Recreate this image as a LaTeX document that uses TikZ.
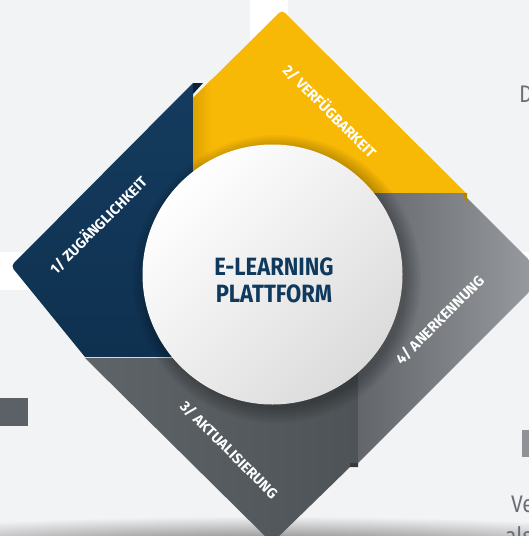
\documentclass[tikz,border=0pt]{standalone}
\usepackage{fontspec}
\setmainfont{Fira Sans}[FakeStretch=0.88]
\newfontfamily\labelfont{Fira Sans}
\usepackage{xcolor}
\definecolor{pagebg}{HTML}{F2F3F5}
\definecolor{pagetext}{HTML}{6B6F73}
\definecolor{navytop}{HTML}{143B5E}
\definecolor{navybot}{HTML}{0F3150}
\definecolor{navyfold}{HTML}{0A2136}
\definecolor{hubtext}{HTML}{0F3A5E}
\definecolor{yellowmain}{HTML}{F8B906}
\definecolor{yellowdk}{HTML}{DFA200}
\definecolor{yellowfold}{HTML}{B08400}
\definecolor{greyfourdk}{HTML}{62666B}
\definecolor{greyfourlt}{HTML}{9A9EA3}
\definecolor{greythreelt}{HTML}{5E6468}
\definecolor{greythreedk}{HTML}{4E5357}
\definecolor{rectdk}{HTML}{5B6166}
\definecolor{rectlt}{HTML}{8E9297}

\tikzset{
  piecelabel/.style={text=white, font=\labelfont\bfseries\fontsize{14.5}{14.5}\selectfont},
  hubline/.style={anchor=base, text=hubtext, font=\bfseries\fontsize{25}{25}\selectfont},
  pageline/.style={anchor=base west, text=pagetext, font=\fontsize{24}{24}\selectfont}
}

\begin{document}
\begin{tikzpicture}[x=1pt,y=-1pt]
\tikzstyle{every node}+=[inner sep=0pt]
\clip (0,0) rectangle (529,536);
\fill [pagebg] (0,0) rectangle (529,536);
\fill [white] (0,252) rectangle (529,290);
\fill [white] (250,0) rectangle (288,100);
\fill [rectdk] (0,398) rectangle (28,426);
\fill [rectlt] (522,430) rectangle (529,457);
\shade [inner color=black!60, outer color=pagebg] (264,550) ellipse (480 and 34);
\shade [top color=navytop, bottom color=navybot] (193,83) [rounded corners=4] -- (11,266) [sharp corners] -- (85,357) -- (193,357) -- cycle;
\fill [yellowmain] (193,98) [rounded corners=4] -- (282,10) [sharp corners] -- (466,193) -- (193,193) -- cycle;
\shade [left color=yellowdk, right color=yellowmain] (193,98) -- (212,79) -- (212,193) -- (193,193) -- cycle;
\shade [left color=greythreelt, right color=greythreedk] (85,358) -- (358,358) -- (358,467) -- (350,467) [rounded corners=4] -- (272,543) [sharp corners] -- cycle;
\shade [left color=greyfourdk, right color=greyfourlt] (358,193) -- (462,193) -- (545,276) -- (358,463) -- cycle;
\fill [navyfold] (193,83) -- (203,83) -- (193,94) -- cycle;
\fill [yellowfold] (462,193) -- (467,193) -- (467,203) -- cycle;
\fill [greythreedk!70!black] (350,463) -- (358,463) -- (358,467) -- (350,467) -- cycle;
\coordinate (hubshadow) at (277,279);
\foreach \r in {2,4,...,16}
  \fill [black, opacity=0.035] (hubshadow) circle (128+\r);
\node (hub) [circle, minimum size=260pt, top color=white, bottom color=black!14, shading angle=45] at (272.5,274.5) {};
\node (hubline1) [hubline] at (274,275) {E-LEARNING};
\node (hubline2) [hubline] at (274,302) {PLATTFORM};
\node (label1) [piecelabel, rotate=45] at (98,225) {1/ ZUGÄNGLICHKEIT};
\node (label2) [piecelabel, rotate=-45] at (330,111) {2/ VERFÜGBARKEIT};
\node (label3) [piecelabel, rotate=-45] at (229,450) {3/ AKTUALISIERUNG};
\node (label4) [piecelabel, rotate=45] at (440,320) {4/ ANERKENNUNG};
\node (pageD) [pageline] at (519,102) {D};
\node (pageVe) [pageline] at (511,512) {Ve};
\node (pageals) [pageline] at (505,544) {als};
\end{tikzpicture}
\end{document}
